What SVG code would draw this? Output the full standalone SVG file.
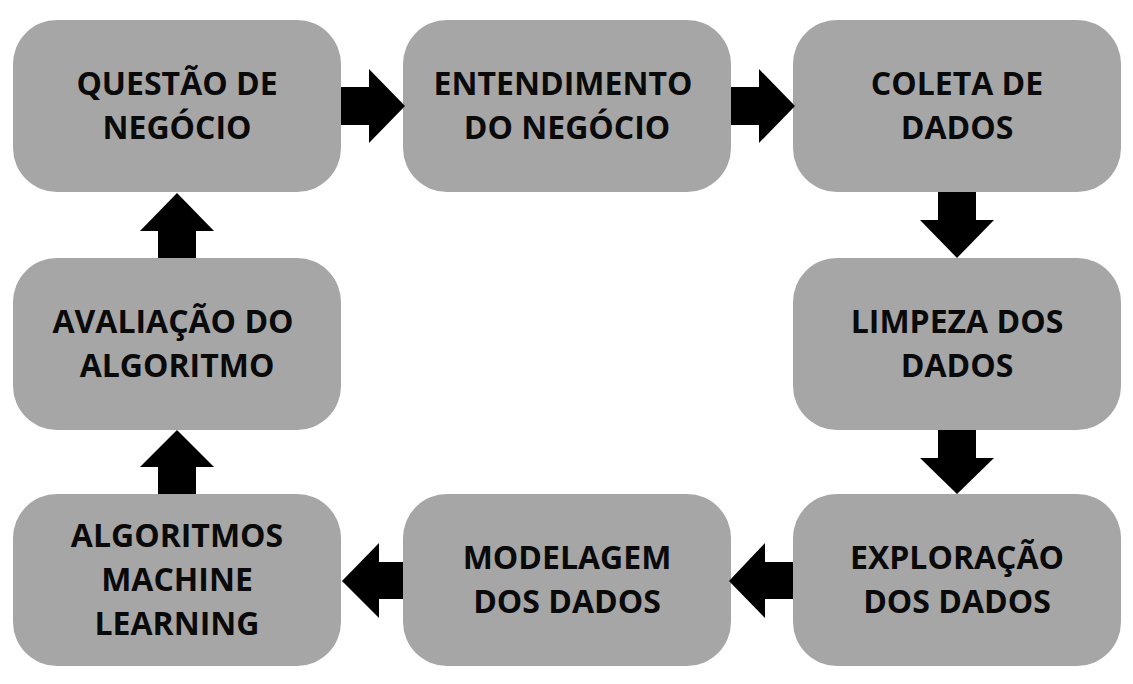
<svg xmlns="http://www.w3.org/2000/svg" width="1133" height="684" viewBox="0 0 1133 684">
<style>
.box{fill:#a6a6a6}
.lbl{font-family:"Open Sans","Liberation Sans",sans-serif;font-weight:700;font-size:32px;fill:#0a0a0a;text-anchor:middle}
.arr{fill:#000}
</style>
<rect width="1133" height="684" fill="#fff"/>
<g id="n1"><rect class="box" x="13" y="20" width="328" height="172" rx="44"/><text class="lbl" x="177" y="95">QUESTÃO DE</text><text class="lbl" x="177" y="139">NEGÓCIO</text></g>
<g id="n2"><rect class="box" x="403" y="20" width="328" height="172" rx="44"/><text class="lbl" x="563" y="95">ENTENDIMENTO</text><text class="lbl" x="567" y="139">DO NEGÓCIO</text></g>
<g id="n3"><rect class="box" x="793" y="20" width="328" height="172" rx="44"/><text class="lbl" x="957" y="95">COLETA DE</text><text class="lbl" x="957" y="139">DADOS</text></g>
<g id="n4"><rect class="box" x="793" y="258" width="328" height="172" rx="44"/><text class="lbl" x="957" y="333">LIMPEZA DOS</text><text class="lbl" x="957" y="377">DADOS</text></g>
<g id="n5"><rect class="box" x="793" y="494" width="328" height="172" rx="44"/><text class="lbl" x="957" y="569">EXPLORAÇÃO</text><text class="lbl" x="957" y="613">DOS DADOS</text></g>
<g id="n6"><rect class="box" x="403" y="494" width="328" height="172" rx="44"/><text class="lbl" x="567" y="569">MODELAGEM</text><text class="lbl" x="567" y="613">DOS DADOS</text></g>
<g id="n7"><rect class="box" x="13" y="494" width="328" height="172" rx="44"/><text class="lbl" x="177" y="547">ALGORITMOS</text><text class="lbl" x="177" y="591">MACHINE</text><text class="lbl" x="177" y="635">LEARNING</text></g>
<g id="n8"><rect class="box" x="13" y="258" width="328" height="172" rx="44"/><text class="lbl" x="173" y="333">AVALIAÇÃO DO</text><text class="lbl" x="177" y="377">ALGORITMO</text></g>
<g id="connectors">
<polygon class="arr" points="341,87 369,87 369,69 405,106 369,143 369,125 341,125"/>
<polygon class="arr" points="731,87 759,87 759,69 795,106 759,143 759,125 731,125"/>
<polygon class="arr" points="938,192 976,192 976,220 994,220 957,258 920,220 938,220"/>
<polygon class="arr" points="938,430 976,430 976,458 994,458 957,494 920,458 938,458"/>
<polygon class="arr" points="793,562 765,562 765,543 729,581 765,618 765,599 793,599"/>
<polygon class="arr" points="403,562 379,562 379,543 342,581 379,618 379,599 403,599"/>
<polygon class="arr" points="158,494 196,494 196,467 214,467 177,430 140,467 158,467"/>
<polygon class="arr" points="158,258 196,258 196,231 214,231 177,193 140,231 158,231"/>
</g>
</svg>
